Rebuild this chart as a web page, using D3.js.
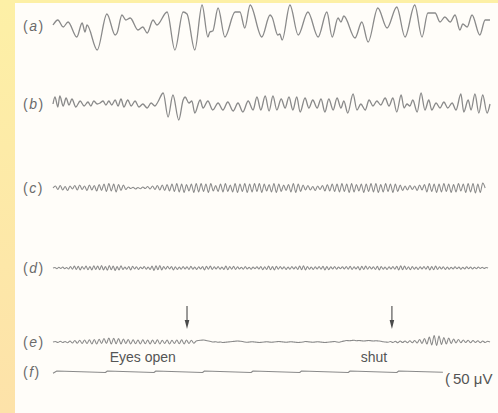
<!DOCTYPE html>
<html>
<head>
<meta charset="utf-8">
<script src="https://cdn.jsdelivr.net/npm/d3@7"></script>
<style>
  html, body { margin: 0; padding: 0; background: #fffdf9; }
  svg { display: block; }
</style>
</head>
<body>
<svg id="chart" width="498" height="413"></svg>
<script>
// ---- EEG recordings: time in seconds, amplitude in microvolts ----

// (a) turning points [t, uV]
const traceA = [
  [0.00, 4], [0.10, 24], [0.21, -4], [0.31, 16], [0.49, -44], [0.60, 12], [0.66, -24], [0.70, 4],
  [0.91, -96], [1.11, 48], [1.28, -36], [1.32, -28], [1.42, 44], [1.50, 24], [1.59, 32], [1.75, -16],
  [1.85, -4], [1.94, -28], [2.06, 24], [2.14, 4], [2.35, 56], [2.51, -96], [2.68, 56], [2.76, 48],
  [2.92, -96], [3.07, 84], [3.19, -44], [3.23, -24], [3.29, -20], [3.40, 72], [3.54, -44], [3.75, 56],
  [3.85, 56], [3.95, -8], [4.06, 84], [4.30, -44], [4.47, 44], [4.51, 36], [4.63, -36], [4.67, -32],
  [4.72, -56], [4.88, 84], [5.05, -36], [5.25, 56], [5.46, -44], [5.64, 56], [5.75, -44], [5.87, 32],
  [5.93, 16], [5.99, 40], [6.22, -48], [6.36, 16], [6.49, -64], [6.69, 72], [6.88, -8], [7.08, 76],
  [7.25, -44], [7.45, 84], [7.60, -44], [7.72, 52], [7.87, 52], [7.97, 16], [8.07, 36], [8.18, 16],
  [8.28, 44], [8.38, -16], [8.44, 8], [8.53, -4], [8.63, 44], [8.79, -36], [8.90, 24], [9.00, 24]
];

// (b) turning points [t, uV]
const traceB = [
  [0.00, 0], [0.04, 28], [0.10, -12], [0.14, 32], [0.21, -8], [0.27, 24], [0.33, -4], [0.39, 20],
  [0.47, -12], [0.56, 12], [0.64, -8], [0.72, 8], [0.78, -8], [0.84, 12], [0.91, 0], [0.97, 4],
  [1.03, 12], [1.09, -4], [1.15, 12], [1.21, -4],
  [1.28, 16], [1.34, -8], [1.40, 20], [1.46, -12], [1.54, 16], [1.61, -8], [1.69, 12], [1.77, -12],
  [1.85, 0], [1.94, -16], [2.02, 4], [2.10, -8], [2.16, 8], [2.27, 44], [2.37, -52], [2.47, 36],
  [2.59, -64], [2.68, 16], [2.72, 28], [2.80, 4], [2.86, 12], [2.92, -36], [3.03, 16], [3.09, -16],
  [3.19, 12], [3.29, -24], [3.40, 4], [3.50, -24], [3.60, 8], [3.71, -28], [3.81, 4], [3.91, -32],
  [4.02, 12], [4.12, -24], [4.20, 28], [4.28, -24], [4.37, 32], [4.45, -28], [4.53, 32], [4.61, -24],
  [4.70, 20], [4.78, -16], [4.86, 28], [4.94, -24], [5.02, 28], [5.09, -32], [5.19, 24], [5.27, -16],
  [5.35, 16], [5.44, -16], [5.52, 20], [5.60, -32], [5.68, 20], [5.77, -24], [5.85, 24], [5.93, -16],
  [5.99, 12], [6.07, -36], [6.18, 40], [6.26, -24], [6.34, 0], [6.43, -24], [6.51, 16], [6.59, -8],
  [6.67, 12], [6.75, -4], [6.84, 24], [6.92, -8], [7.00, 24], [7.08, -32], [7.17, 36], [7.23, -16],
  [7.29, 0], [7.35, -8], [7.41, 16], [7.50, -32], [7.58, 44], [7.66, -24], [7.74, 16], [7.80, -24],
  [7.89, 4], [7.97, -16], [8.05, 8], [8.13, -16], [8.22, 4], [8.30, -24], [8.40, 40], [8.46, -32],
  [8.55, 16], [8.61, -24], [8.69, 40], [8.77, -36], [8.85, 36], [8.94, -36], [9.00, 0]
];

// (c) samples every 0.05 s, uV
const stepC = 0.05;
const traceC = [
  0, 8, -6, 10, -8, 6, -10, 8, -4, 10, -8, 12, -6, 8, -10, 12, -8, 10, -12, 14,
  -10, 16, -14, 18, -12, 16, -16, 14, -10, 12, -6, 4, -2, 3, -4, 2, -3, 4, -2, 6,
  -4, 8, -6, 10, -8, 12, -10, 14, -12, 16, -14, 18, -16, 16, -18, 14, -12, 16, -18, 18,
  -16, 18, -14, 16, -18, 18, -12, 10, -14, 16, -16, 18, -14, 12, -16, 18, -18, 16, -14, 18,
  -18, 16, -16, 18, -14, 18, -18, 16, -12, 14, -16, 18, -18, 16, -14, 12, -10, 14, -16, 18,
  -18, 16, -14, 12, -8, 10, -8, 6, -10, 8, -6, 10, -12, 14, -12, 16, -14, 16, -16, 18,
  -14, 16, -18, 18, -16, 14, -12, 16, -18, 16, -14, 18, -16, 18, -18, 14, -16, 18, -14, 16,
  -18, 16, -14, 12, -10, 8, -8, 10, -6, 8, -10, 12, -8, 14, -16, 18, -14, 16, -18, 16,
  -16, 18, -14, 16, -18, 14, -16, 18, -12, 16, -18, 18, -16, 18, -20, 16, -18, 20, 0
];

// (d) samples every 0.04 s, uV
const stepD = 0.04;
const traceD = [
  0, 2, -3, 3, -2, 4, -3, 2, -4, 6, -5, 8, -6, 7, -8, 6, -5, 8, -7, 6, -8, 9, -6, 8, -7,
  10, -8, 6, -9, 10, -7, 8, -10, 6, -8, 9, -6, 4, -5, 6, -8, 7, -4, 5, -6, 4, -3, 6, -5, 4,
  -6, 8, -10, 9, -7, 10, -8, 6, -5, 7, -4, 6, -8, 5, -6, 4, -5, 6, -4, 5, -6, 7, -5, 4, -6,
  5, -4, 6, -8, 7, -5, 8, -6, 5, -4, 6, -5, 4, -6, 8, -7, 6, -5, 7, -6, 5, -4, 3, -5, 6,
  -4, 3, -5, 4, -3, 5, -4, 6, -7, 5, -6, 8, -7, 6, -8, 7, -5, 6, -4, 5, -6, 4, -5, 6, -4,
  5, -6, 8, -7, 9, -8, 6, -5, 4, -6, 5, -4, 6, -5, 7, -8, 6, -7, 5, -4, 6, -5, 4, -3, 5,
  -4, 6, -5, 7, -6, 5, -4, 6, -8, 7, -6, 8, -5, 6, -4, 5, -6, 7, -8, 6, -5, 4, -6, 5, -4,
  6, -5, 7, -8, 9, -7, 8, -6, 5, -7, 6, -5, 4, -6, 5, -4, 6, -5, 7, -8, 6, -7, 8, -6, 5,
  -4, 5, -6, 4, -5, 3, -4, 5, -3, 4, -5, 3, -4, 5, -3, 4, -4, 3, -3, 4, -2, 3, -2, 2, 0
];

// (e) samples every 0.05 s, uV (eyes opened then shut)
const stepE = 0.05;
const traceE = [
  0, 2, -2, 3, -2, 2, -3, 4, -4, 6, -5, 7, -6, 8, -6, 9, -8, 10, -8, 11,
  -6, 14, -6, 16, -8, 15, -7, 14, -8, 12, -6, 10, -8, 9, -7, 8, -8, 9, -7, 8,
  -8, 8, -7, 9, -8, 7, -6, 8, -8, 7, -6, 8, -7, 9, -8, 8, -6, 7, -5, 4,
  6, 7, 8, 6, 4, 2, 0, 1, -1, 0, -2, -1, 0, 1, 2, 3, 4, 3, 2, 0,
  -1, 0, 1, 0, -1, -2, -1, 0, 1, 0, -1, 0, 1, 2, 1, 0, -1, 0, 1, 0,
  -1, -2, -1, 0, 2, 1, 0, -1, 0, 1, 0, -1, -2, -1, 0, 1, 2, 0, -1, 2,
  4, 6, 5, 6, 7, 5, 6, 5, 4, 5, 6, 5, 4, 5, 4, 3, 1, 0, -1, 2,
  -2, 3, -3, 4, -2, 4, -3, 5, -3, 6, -4, 10, -6, 14, -8, 20, -12, 26, -14, 24,
  -10, 18, -8, 16, -6, 12, -4, 10, -3, 8, -2, 7, -3, 6, -2, 5, -3, 4, -2, 3, 0
];

// (f) one-second timing trace [t, uV]
const traceF = [
  [0.00, -5], [0.08, 4], [1.08, -2], [1.12, 4], [2.08, -2], [2.12, 4], [3.08, -2], [3.12, 4],
  [4.08, -2], [4.12, 4], [5.08, -2], [5.12, 4], [6.08, -2], [6.12, 4], [7.08, -2], [7.12, 4],
  [8.03, -1]
];

// events on trace (e)
const eventTimes = [2.76, 6.98];
const eventLabels = ["Eyes open", "shut"];
const eventLabelTimes = [1.85, 6.61];

const rowLetters = ["a", "b", "c", "d", "e", "f"];
const calibrationText = "50 \u03bcV";

// ---- drawing ----
const W = 498, H = 413;
const svg = d3.select("#chart");

const defs = svg.append("defs");
const grad = defs.append("linearGradient").attr("id", "edge")
  .attr("x1", 0).attr("y1", 0).attr("x2", 0).attr("y2", 1);
grad.append("stop").attr("offset", "0%").attr("stop-color", "#fdf0a6");
grad.append("stop").attr("offset", "100%").attr("stop-color", "#fde2a9");

svg.append("rect").attr("width", W).attr("height", H).attr("fill", "#fffdf9");
svg.append("rect").attr("x", 0).attr("y", 0).attr("width", W).attr("height", 3).attr("fill", "#fdf0a6");
svg.append("rect").attr("x", 0).attr("y", 0).attr("width", 15).attr("height", H).attr("fill", "url(#edge)");

const x = d3.scaleLinear().domain([0, 9]).range([53, 490]);
const rowCentres = [26, 104, 188, 268, 342, 372];
const yFor = c => d3.scaleLinear().domain([-100, 100]).range([c + 25, c - 25]);

const sampled = (vals, dt) => vals.map((v, i) => [i * dt, v]);
const series = [
  traceA, traceB, sampled(traceC, stepC), sampled(traceD, stepD), sampled(traceE, stepE), traceF
];

series.forEach((pts, i) => {
  const y = yFor(rowCentres[i]);
  const line = d3.line()
    .x(d => x(d[0]))
    .y(d => y(d[1]))
    .curve(i === 5 ? d3.curveLinear : d3.curveMonotoneX);
  svg.append("path")
    .datum(pts)
    .attr("d", line)
    .attr("fill", "none")
    .attr("stroke", "#8a8a8a")
    .attr("stroke-width", i < 2 ? 1.3 : 1.1)
    .attr("stroke-linejoin", "round");
});

// row labels
rowLetters.forEach((ch, i) => {
  const t = svg.append("text")
    .attr("x", 23)
    .attr("y", rowCentres[i] + 5)
    .attr("font-family", "Liberation Sans, Arial, sans-serif")
    .attr("font-size", 14)
    .attr("fill", "#6a6a6a");
  t.append("tspan").text("(");
  t.append("tspan").attr("dx", 1.5).attr("font-style", "italic").text(ch);
  t.append("tspan").attr("dx", 1.5).text(")");
});

// event arrows
const yE = rowCentres[4];
eventTimes.forEach(t => {
  const ax = x(t);
  svg.append("line")
    .attr("x1", ax).attr("x2", ax)
    .attr("y1", yE - 36).attr("y2", yE - 20)
    .attr("stroke", "#4a4a4a").attr("stroke-width", 1.1);
  svg.append("path")
    .attr("d", `M${ax - 2.3},${yE - 22}L${ax + 2.3},${yE - 22}L${ax},${yE - 13}Z`)
    .attr("fill", "#4a4a4a");
});

eventLabels.forEach((s, i) => {
  svg.append("text")
    .attr("x", x(eventLabelTimes[i]))
    .attr("y", yE + 20)
    .attr("text-anchor", "middle")
    .attr("font-family", "Liberation Sans, Arial, sans-serif")
    .attr("font-size", 14)
    .attr("fill", "#555")
    .text(s);
});

// calibration
const cal = svg.append("text")
  .attr("x", 445)
  .attr("y", rowCentres[5] + 12)
  .attr("font-family", "Liberation Sans, Arial, sans-serif")
  .attr("font-size", 15)
  .attr("fill", "#555");
cal.append("tspan").text("(");
cal.append("tspan").attr("dx", 3).text(calibrationText);
</script>
</body>
</html>
